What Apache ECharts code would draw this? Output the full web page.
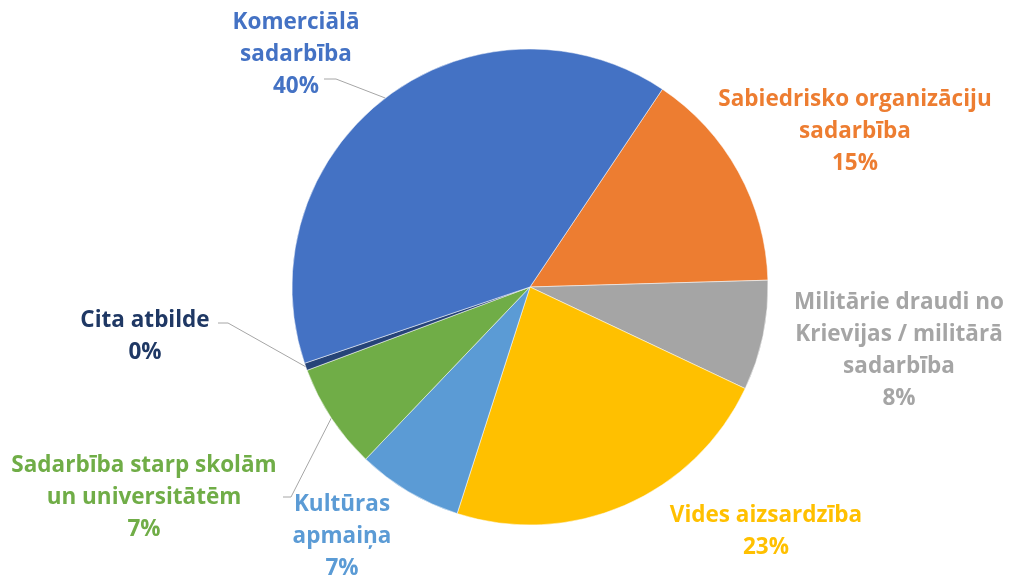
<!DOCTYPE html>
<html>
<head>
<meta charset="utf-8">
<script src="https://cdn.jsdelivr.net/npm/echarts@6/dist/echarts.min.js"></script>
<style>
  html, body { margin: 0; padding: 0; background: #fff; }
  #chart { width: 1016px; height: 579px; }
</style>
</head>
<body>
<div id="chart"></div>
<script>
// dati (secība pulksteņrādītāja virzienā no 12:00 pēc Komerciālā)
var categories = [
  'Sabiedrisko organizāciju\nsadarbība',
  'Militārie draudi no\nKrievijas / militārā\nsadarbība',
  'Vides aizsardzība',
  'Kultūras\napmaiņa',
  'Sadarbība starp skolām\nun universitātēm',
  'Cita atbilde',
  'Komerciālā\nsadarbība'
];
var values = [15.2, 7.5, 23.0, 7.2, 7.2, 0.5, 39.7];
var shownPct = [15, 8, 23, 7, 7, 0, 40];
var colors = ['#ED7D31', '#A5A5A5', '#FFC000', '#5B9BD5', '#70AD47', '#264478', '#4472C4'];
var textColors = ['#ED7D31', '#A5A5A5', '#FFC000', '#5B9BD5', '#70AD47', '#1F3864', '#4472C4'];
var showLine = [false, false, false, false, true, true, true];

// etiķešu centri
var labelPos = [
  [855, 132], [899, 351], [766, 532], [342, 537], [144, 498], [145, 337], [296, 55]
];
// līniju gali pie etiķetēm (bez pirmā punkta uz sektora malas)
var lineEnds = [null, null, null, null,
  [[291, 497], [283, 497]],
  [[228, 323], [218, 323]],
  [[336, 79], [324, 79]]
];

var chart = echarts.init(document.getElementById('chart'));

var data = categories.map(function (name, i) {
  return {
    name: name,
    value: values[i],
    itemStyle: { color: colors[i] },
    label: { color: textColors[i] },
    labelLine: { show: showLine[i] }
  };
});

var option = {
  animation: false,
  series: [{
    type: 'pie',
    center: [530, 287],
    radius: 238,
    startAngle: 56.2,
    clockwise: true,
    data: data,
    itemStyle: { borderColor: '#fff', borderWidth: 0.5 },
    label: {
      show: true,
      position: 'outside',
      overflow: 'none',
      fontFamily: 'Open Sans',
      fontWeight: 'bold',
      fontSize: 22.5,
      lineHeight: 32,
      align: 'center',
      formatter: function (p) {
        return p.name + '\n' + shownPct[p.dataIndex] + '%';
      }
    },
    labelLine: {
      length: 10,
      length2: 10,
      lineStyle: { color: '#A6A6A6', width: 1 }
    },
    labelLayout: function (p) {
      var pos = labelPos[p.dataIndex];
      var res = { x: pos[0], y: pos[1], align: 'center', verticalAlign: 'middle' };
      var ends = lineEnds[p.dataIndex];
      if (ends && p.labelLinePoints && p.labelLinePoints.length) {
        res.labelLinePoints = [p.labelLinePoints[0], ends[0], ends[1]];
      }
      return res;
    }
  }]
};

chart.setOption(option);
</script>
</body>
</html>
